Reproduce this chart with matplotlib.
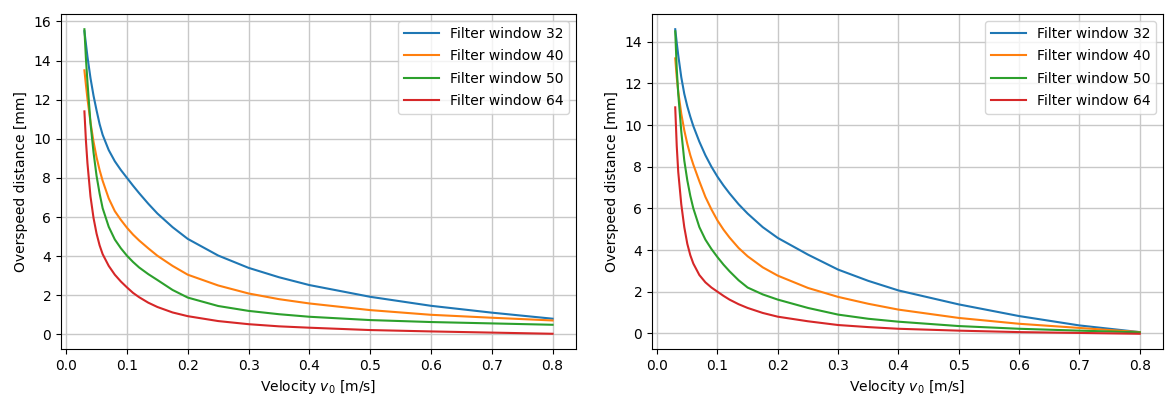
import matplotlib
matplotlib.use("Agg")
import matplotlib.pyplot as plt

# velocity samples [m/s]
velocity = [0.03, 0.0325, 0.035, 0.04, 0.045, 0.05, 0.055, 0.06, 0.07, 0.08,
            0.09, 0.1, 0.11, 0.12, 0.135, 0.15, 0.175, 0.2, 0.25, 0.3,
            0.35, 0.4, 0.5, 0.6, 0.7, 0.8]

windows = [32, 40, 50, 64]

# overspeed distance [mm], first setup
left_w32 = [15.5, 14.85, 14.2, 13.1, 12.2, 11.45, 10.75, 10.2, 9.42, 8.85,
            8.4, 8.0, 7.6, 7.22, 6.68, 6.18, 5.48, 4.88, 4.03, 3.4,
            2.92, 2.52, 1.92, 1.46, 1.11, 0.8]
left_w40 = [13.5, 12.75, 12.05, 10.85, 9.85, 9.05, 8.4, 7.85, 6.95, 6.3,
            5.85, 5.45, 5.1, 4.8, 4.4, 4.02, 3.5, 3.05, 2.5, 2.09,
            1.8, 1.58, 1.24, 1.0, 0.85, 0.71]
left_w50 = [15.6, 14.1, 12.9, 10.8, 9.3, 8.1, 7.2, 6.45, 5.5, 4.85,
            4.4, 4.02, 3.7, 3.42, 3.08, 2.78, 2.27, 1.88, 1.45, 1.2,
            1.03, 0.9, 0.73, 0.63, 0.56, 0.49]
left_w64 = [11.4, 9.9, 8.75, 7.05, 5.95, 5.15, 4.55, 4.1, 3.5, 3.05,
            2.7, 2.4, 2.12, 1.9, 1.62, 1.4, 1.12, 0.93, 0.68, 0.52,
            0.41, 0.34, 0.22, 0.15, 0.09, 0.03]

# overspeed distance [mm], second setup
right_w32 = [14.6, 13.95, 13.35, 12.3, 11.5, 10.9, 10.4, 9.95, 9.2, 8.55,
             8.0, 7.52, 7.1, 6.72, 6.2, 5.75, 5.1, 4.58, 3.78, 3.06,
             2.52, 2.06, 1.39, 0.83, 0.38, 0.06]
right_w40 = [13.2, 12.3, 11.6, 10.55, 9.75, 9.1, 8.55, 8.1, 7.3, 6.55,
             5.95, 5.42, 4.98, 4.6, 4.1, 3.7, 3.17, 2.77, 2.18, 1.75,
             1.42, 1.14, 0.74, 0.46, 0.26, 0.06]
right_w50 = [14.5, 12.7, 11.5, 9.7, 8.3, 7.35, 6.6, 6.0, 5.1, 4.5,
             4.05, 3.66, 3.3, 2.98, 2.55, 2.2, 1.87, 1.62, 1.22, 0.9,
             0.7, 0.56, 0.35, 0.22, 0.13, 0.05]
right_w64 = [10.85, 9.0, 7.75, 6.2, 5.1, 4.3, 3.75, 3.35, 2.8, 2.45,
             2.2, 2.0, 1.8, 1.62, 1.4, 1.22, 0.98, 0.8, 0.58, 0.4,
             0.3, 0.22, 0.13, 0.06, 0.02, -0.02]

plt.rcParams["grid.color"] = "#c8c8c8"
plt.rcParams["grid.linewidth"] = 1.0

fig = plt.figure(figsize=(11.65, 3.97), dpi=100)
ax1 = fig.add_axes([61 / 1165, 48 / 397, 515 / 1165, 335 / 397])
ax2 = fig.add_axes([652 / 1165, 48 / 397, 511 / 1165, 335 / 397])

for ax, curves in ((ax1, [left_w32, left_w40, left_w50, left_w64]),
                   (ax2, [right_w32, right_w40, right_w50, right_w64])):
    for w, d in zip(windows, curves):
        ax.plot(velocity, d, label=f"Filter window {w}", linewidth=1.5)
    ax.grid(True)
    ax.set_xticks([0.0, 0.1, 0.2, 0.3, 0.4, 0.5, 0.6, 0.7, 0.8])
    ax.set_xlabel("Velocity $v_0$ [m/s]")
    ax.set_ylabel("Overspeed distance [mm]")
    ax.legend(loc="upper right", handlelength=2.5, labelspacing=0.62)

fig.savefig("out.png", dpi=100)
